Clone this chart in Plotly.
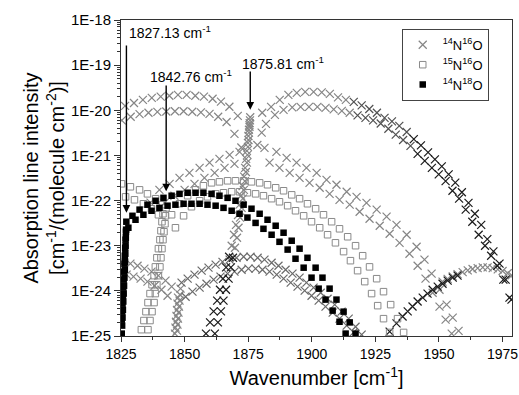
import math
import plotly.graph_objects as go

# ===================== DATA =====================
# ---- 14N16O : fundamental band, P branch (two sub-bands) ----
p_up_wn = [1826.6, 1830.1, 1833.6, 1837.1, 1840.6, 1844.0, 1847.4, 1850.8, 1854.2, 1857.6, 1861.0, 1864.3, 1867.6, 1870.9]
p_up_I = [1.25e-20, 1.45e-20, 1.7e-20, 1.88e-20, 2.0e-20, 2.1e-20, 2.2e-20, 2.2e-20, 2.1e-20, 2.0e-20, 1.8e-20, 1.55e-20, 1.2e-20, 7.5e-21]
p_lo_wn = [1825.3, 1828.8, 1832.3, 1835.8, 1839.3, 1842.8, 1846.2, 1849.6, 1853.0, 1856.4, 1859.8, 1863.2, 1866.5, 1869.6, 1872.3]
p_lo_I = [6.0e-21, 7.2e-21, 8.2e-21, 8.8e-21, 9.2e-21, 9.4e-21, 9.5e-21, 9.5e-21, 9.3e-21, 9.0e-21, 8.3e-21, 7.2e-21, 5.5e-21, 3.0e-21, 1.5e-21]

# ---- 14N16O : fundamental band, R branch (two sub-bands) ----
r_up_wn = [1880.5, 1884.0, 1887.4, 1890.8, 1894.1, 1897.4, 1900.7, 1903.9, 1907.1, 1910.3, 1913.4, 1916.5,
           1919.6, 1922.6, 1925.6, 1928.6, 1931.5, 1934.4, 1937.3, 1940.1, 1942.9, 1945.7, 1948.4, 1951.1,
           1953.8, 1956.4, 1959.0, 1961.6, 1964.1, 1966.6, 1969.0, 1971.4, 1973.8, 1976.2, 1978.5]
r_up_I = [8.8e-21, 1.19e-20, 1.7e-20, 2.19e-20, 2.43e-20, 2.55e-20, 2.55e-20, 2.49e-20, 2.31e-20, 1.93e-20, 1.7e-20, 1.53e-20,
          1.28e-20, 1.07e-20, 8.8e-21, 6.8e-21, 5.7e-21, 4.5e-21, 3.3e-21, 2.3e-21, 1.67e-21, 1.17e-21, 8.2e-22, 5.7e-22,
          3.8e-22, 2.5e-22, 1.53e-22, 8.9e-23, 5.1e-23, 2.9e-23, 1.4e-23, 7.5e-24, 4.0e-24, 1.77e-24, 6.4e-25]
r_lo_wn = [1878.6, 1880.3, 1882.0, 1885.5, 1888.9, 1892.3, 1895.6, 1898.9, 1902.2, 1905.4, 1908.6, 1911.8,
           1914.9, 1918.0, 1921.1, 1924.1, 1927.1, 1930.1, 1933.0, 1935.9, 1938.8, 1941.6, 1944.4, 1947.2,
           1949.9, 1952.6, 1955.3, 1957.9, 1960.5, 1963.1, 1965.6, 1968.1, 1970.5, 1972.9, 1975.3, 1977.7]
r_lo_I = [1.7e-21, 3.2e-21, 5.0e-21, 7.9e-21, 1.02e-20, 1.16e-20, 1.19e-20, 1.19e-20, 1.19e-20, 1.13e-20, 1.05e-20, 9.7e-21,
          8.8e-21, 7.7e-21, 6.8e-21, 6.0e-21, 5.1e-21, 3.9e-21, 2.9e-21, 2.2e-21, 1.63e-21, 1.08e-21, 7.6e-22, 5.3e-22,
          3.8e-22, 2.7e-22, 1.65e-22, 1.1e-22, 6.3e-23, 3.4e-23, 1.75e-23, 1.0e-23, 6.0e-24, 3.6e-24, 1.77e-24, 7.1e-25]

# ---- 14N16O : Q branches at the band origin ----
qa_wn = [1875.8, 1875.7, 1875.6, 1875.5, 1875.3, 1875.1, 1874.9, 1874.7, 1874.5, 1874.1, 1873.7, 1873.3, 1872.9,
         1872.4, 1871.8, 1871.2, 1870.6, 1869.8]
qa_I = [7.0e-21, 6.0e-21, 5.2e-21, 4.3e-21, 3.2e-21, 2.2e-21, 1.55e-21, 1.03e-21, 6.9e-22, 4.3e-22, 2.7e-22, 1.73e-22, 1.1e-22,
        6.9e-23, 4.2e-23, 2.5e-23, 1.5e-23, 9.0e-24]
qa_tail_wn = [1869.0, 1868.2, 1867.3, 1866.3, 1865.3, 1864.3, 1863.1, 1861.9]
qa_tail_I = [5.4e-24, 3.3e-24, 1.86e-24, 1.06e-24, 6.1e-25, 3.5e-25, 2.0e-25, 1.13e-25]
qb_wn = [1875.5, 1875.3, 1875.1, 1874.9, 1874.5, 1874.2, 1873.8, 1873.4, 1872.8, 1872.2, 1871.6, 1871.0, 1870.2,
         1869.4, 1868.5]
qb_I = [4.7e-21, 3.7e-21, 2.7e-21, 1.9e-21, 1.26e-21, 8.4e-22, 5.3e-22, 3.4e-22, 2.1e-22, 1.28e-22, 8.1e-23, 4.8e-23, 2.9e-23,
        1.75e-23, 1.0e-23]
qb_tail_wn = [1867.5, 1866.3, 1865.1, 1863.9, 1862.8, 1861.4, 1860.0, 1858.4]
qb_tail_I = [5.7e-24, 3.3e-24, 1.86e-24, 1.06e-24, 6.1e-25, 3.5e-25, 2.0e-25, 1.13e-25]

# ---- 14N16O : weaker band (arc peaking near 1880 cm-1) ----
s_left_up_wn = [1836.6, 1840.1, 1844.1, 1848.0, 1851.9, 1855.9, 1859.8, 1863.7, 1867.7, 1871.6]
s_left_up_I = [9.0e-23, 1.73e-22, 2.35e-22, 3.19e-22, 4.12e-22, 5.3e-22, 6.9e-22, 8.4e-22, 1.03e-21, 1.2e-21]
s_left_lo_wn = [1842.1, 1846.0, 1850.0, 1853.9, 1857.8, 1861.8, 1865.7, 1869.6]
s_left_lo_I = [8.9e-23, 1.28e-22, 1.73e-22, 2.35e-22, 3.19e-22, 4.12e-22, 5.3e-22, 6.5e-22]
s_right_up_wn = [1881.4, 1886.1, 1890.1, 1894.0, 1897.9, 1901.9, 1905.8, 1909.7, 1913.7, 1917.6, 1921.5, 1925.5,
                 1929.4, 1933.3, 1937.3, 1941.2, 1944.3, 1947.1, 1950.2, 1953.0, 1955.4, 1957.7]
s_right_up_I = [1.47e-21, 1.2e-21, 8.8e-22, 6.9e-22, 5.3e-22, 4.12e-22, 2.88e-22, 2.24e-22, 1.57e-22, 1.21e-22, 8.9e-23, 6.3e-23,
                4.4e-23, 2.9e-23, 1.75e-23, 9.5e-24, 4.9e-24, 2.4e-24, 1.06e-24, 4.95e-25, 2.55e-25, 1.3e-25]
s_right_lo_wn = [1883.4, 1887.3, 1891.3, 1895.2, 1899.1, 1903.1, 1907.0, 1910.9, 1914.9, 1918.8, 1922.7, 1926.7,
                 1930.6, 1934.5, 1938.4, 1941.6, 1944.7, 1947.5, 1950.2, 1952.6, 1955.0]
s_right_lo_I = [6.9e-22, 5.3e-22, 4.12e-22, 3.19e-22, 2.47e-22, 1.92e-22, 1.41e-22, 1.04e-22, 8.1e-23, 5.65e-23, 3.96e-23, 2.77e-23,
                1.84e-23, 1.16e-23, 6.65e-24, 3.6e-24, 1.86e-24, 9.1e-25, 4.47e-25, 2.3e-25, 1.13e-25]

# ---- 14N16O : hot band (v=2<-1) ----
h_r_up_wn = [1848.8, 1851.2, 1853.9, 1856.7, 1859.4, 1862.2, 1864.9, 1867.7, 1870.4, 1873.2, 1875.9, 1878.7, 1881.4,
             1884.2, 1886.9, 1889.7, 1892.4, 1895.2, 1897.9, 1900.7, 1903.5, 1906.2, 1909.0, 1911.7, 1914.5, 1917.2, 1919.6]
h_r_up_I = [1.52e-24, 1.86e-24, 2.28e-24, 2.8e-24, 3.26e-24, 3.8e-24, 4.4e-24, 4.9e-24, 5.4e-24, 5.7e-24, 5.7e-24, 5.4e-24, 4.9e-24,
            4.2e-24, 3.6e-24, 2.94e-24, 2.4e-24, 1.96e-24, 1.52e-24, 1.18e-24, 9.1e-25, 6.7e-25, 4.95e-25, 3.46e-25, 2.42e-25, 1.6e-25, 1.07e-25]
h_r_lo_wn = [1850.4, 1853.1, 1855.9, 1858.6, 1861.4, 1864.1, 1866.9, 1869.6, 1872.4, 1875.1, 1877.9, 1880.6, 1883.4,
             1886.2, 1888.9, 1891.7, 1894.4, 1897.2, 1899.9, 1902.7, 1905.4, 1908.2, 1910.9, 1913.7, 1916.4]
h_r_lo_I = [7.4e-25, 9.6e-25, 1.18e-24, 1.44e-24, 1.77e-24, 2.06e-24, 2.4e-24, 2.66e-24, 2.94e-24, 3.1e-24, 3.1e-24, 2.94e-24, 2.66e-24,
            2.28e-24, 1.86e-24, 1.52e-24, 1.24e-24, 1.01e-24, 7.8e-25, 6.1e-25, 4.47e-25, 3.3e-25, 2.42e-25, 1.7e-25, 1.2e-25]
h_p_up_wn = [1826.0, 1828.7, 1831.5, 1834.2, 1837.0, 1839.7, 1842.5, 1844.9]
h_p_up_I = [4.4e-24, 4.0e-24, 3.6e-24, 3.1e-24, 2.66e-24, 2.17e-24, 1.68e-24, 1.24e-24]
h_p_lo_wn = [1827.2, 1829.9, 1832.7, 1835.4, 1838.2, 1840.9, 1843.3]
h_p_lo_I = [2.28e-24, 2.06e-24, 1.86e-24, 1.6e-24, 1.3e-24, 1.06e-24, 7.8e-25]
h_q_wn = [1848.4, 1848.2, 1848.0, 1847.8, 1847.6, 1847.4, 1847.2, 1847.0,
          1847.4, 1847.2, 1847.0, 1846.8, 1846.6, 1846.4, 1846.2]
h_q_I = [1.12e-24, 8.2e-25, 6.1e-25, 4.47e-25, 3.3e-25, 2.42e-25, 1.78e-25, 1.32e-25,
         7.1e-25, 5.2e-25, 3.8e-25, 2.8e-25, 2.07e-25, 1.53e-25, 1.13e-25]

# ---- 14N16O : rising branch at the right edge ----
asc_wn = [1930.6, 1933.3, 1935.7, 1937.7, 1939.6, 1941.6, 1943.6, 1945.5, 1947.5, 1949.5, 1951.4, 1953.4, 1955.4, 1957.3]
asc_I = [1.25e-25, 1.9e-25, 2.7e-25, 3.5e-25, 4.5e-25, 5.8e-25, 7.1e-25, 8.7e-25, 1.06e-24, 1.24e-24, 1.44e-24, 1.68e-24, 1.96e-24, 2.17e-24]
asc2_wn = [1951.4, 1953.4, 1955.4, 1957.3, 1959.3, 1961.3, 1963.2, 1965.2, 1967.2, 1969.1, 1971.1, 1973.1, 1975.0, 1977.0, 1978.6]
asc2_I = [1.6e-24, 1.85e-24, 2.1e-24, 2.35e-24, 2.6e-24, 2.85e-24, 3.05e-24, 3.2e-24, 3.3e-24, 3.3e-24, 3.2e-24, 3.0e-24, 2.75e-24, 2.45e-24, 2.2e-24]

# ---- 15N16O ----
n15_r_up_wn = [1844.9, 1848.0, 1851.2, 1854.3, 1857.4, 1860.6, 1863.7, 1866.9, 1870.0, 1873.2, 1876.3, 1879.5, 1882.6,
               1885.8, 1888.9, 1892.1, 1895.2, 1898.3, 1901.5, 1904.6, 1907.8, 1910.9, 1914.1, 1917.2, 1920.0, 1922.7,
               1925.5, 1928.2, 1931.0, 1933.7, 1936.1]
n15_r_up_I = [4.85e-23, 8.5e-23, 1.28e-22, 1.73e-22, 2.13e-22, 2.47e-22, 2.6e-22, 2.74e-22, 2.74e-22, 2.74e-22, 2.6e-22, 2.47e-22, 2.24e-22,
              1.92e-22, 1.65e-22, 1.34e-22, 1.1e-22, 8.5e-23, 6.6e-23, 4.85e-23, 3.4e-23, 2.37e-23, 1.58e-23, 1.0e-23, 6.0e-24, 3.4e-24,
              1.86e-24, 9.6e-25, 4.95e-25, 2.42e-25, 1.2e-25]
n15_r_lo_wn = [1846.4, 1849.6, 1852.7, 1855.9, 1859.0, 1862.2, 1865.3, 1868.5, 1871.6, 1874.7, 1877.9, 1881.0, 1884.2,
               1887.3, 1890.5, 1893.6, 1896.8, 1899.9, 1903.1, 1906.2, 1909.3, 1912.5, 1915.2, 1918.0, 1920.8, 1923.5,
               1925.9, 1928.2, 1930.6]
n15_r_lo_I = [2.5e-23, 4.6e-23, 7.3e-23, 9.9e-23, 1.21e-22, 1.41e-22, 1.49e-22, 1.57e-22, 1.57e-22, 1.49e-22, 1.41e-22, 1.28e-22, 1.1e-22,
              9.4e-23, 7.7e-23, 5.95e-23, 4.6e-23, 3.4e-23, 2.5e-23, 1.75e-23, 1.16e-23, 7.4e-24, 4.66e-24, 2.8e-24, 1.6e-24, 8.7e-25,
              4.7e-25, 2.42e-25, 1.2e-25]
n15_p_up_wn = [1825.2, 1828.7, 1832.3, 1835.4, 1838.6, 1841.3]
n15_p_up_I = [2.35e-22, 2.02e-22, 1.73e-22, 1.41e-22, 1.1e-22, 8.1e-23]
n15_p_lo_wn = [1826.8, 1830.3, 1833.8, 1837.0, 1839.7]
n15_p_lo_I = [1.21e-22, 1.04e-22, 8.5e-23, 6.6e-23, 4.85e-23]
n15_q_wn = [1842.7, 1842.5, 1842.3, 1841.9, 1841.5, 1841.1, 1840.7, 1840.3, 1839.7, 1839.1, 1838.5, 1838.0, 1837.2, 1836.4, 1835.6,
            1841.5, 1841.1, 1840.7, 1840.3, 1839.7, 1839.1, 1838.5, 1838.0, 1837.2, 1836.4, 1835.6, 1834.8, 1834.0, 1833.0]
n15_q_I = [6.9e-23, 4.6e-23, 3.07e-23, 2.04e-23, 1.36e-23, 8.6e-24, 5.4e-24, 3.4e-24, 2.17e-24, 1.37e-24, 8.7e-25, 5.5e-25, 3.46e-25, 2.2e-25, 1.38e-25,
           5.1e-23, 3.4e-23, 2.15e-23, 1.36e-23, 8.6e-24, 5.4e-24, 3.4e-24, 2.17e-24, 1.37e-24, 8.7e-25, 5.5e-25, 3.46e-25, 2.2e-25, 1.38e-25]

# ---- 14N18O ----
n18_r_up_wn = [1829.5, 1832.3, 1835.4, 1838.6, 1841.7, 1844.9, 1848.0, 1851.2, 1854.3, 1857.4, 1860.6, 1863.7, 1866.9,
               1870.0, 1873.2, 1876.3, 1879.5, 1882.6, 1885.8, 1888.9, 1892.1, 1895.2, 1898.3, 1901.5, 1904.2, 1907.0,
               1909.7, 1912.5, 1914.9, 1917.2]
n18_r_up_I = [4.6e-23, 6.3e-23, 8.1e-23, 9.9e-23, 1.15e-22, 1.28e-22, 1.41e-22, 1.49e-22, 1.49e-22, 1.49e-22, 1.41e-22, 1.28e-22, 1.15e-22,
              9.9e-23, 8.1e-23, 6.6e-23, 5.1e-23, 3.76e-23, 2.77e-23, 1.94e-23, 1.29e-23, 8.6e-24, 5.4e-24, 3.26e-24, 1.96e-24, 1.12e-24,
              6.4e-25, 3.46e-25, 2.0e-25, 1.13e-25]
n18_r_lo_wn = [1827.9, 1830.7, 1833.8, 1837.0, 1840.1, 1843.3, 1846.4, 1849.6, 1852.7, 1855.9, 1859.0, 1862.2, 1865.3,
               1868.5, 1871.6, 1874.7, 1877.9, 1881.0, 1884.2, 1887.3, 1890.5, 1893.6, 1896.8, 1899.9, 1902.7, 1905.4,
               1908.2, 1910.9, 1913.3]
n18_r_lo_I = [2.5e-23, 3.76e-23, 4.85e-23, 5.95e-23, 6.9e-23, 7.7e-23, 8.1e-23, 8.5e-23, 8.5e-23, 8.5e-23, 8.1e-23, 7.7e-23, 6.9e-23,
              5.95e-23, 5.1e-23, 4.2e-23, 3.2e-23, 2.37e-23, 1.75e-23, 1.22e-23, 8.2e-24, 5.15e-24, 3.26e-24, 1.96e-24, 1.12e-24, 6.4e-25,
              3.65e-25, 2.07e-25, 1.13e-25]
n18_q_wn = [1827.1, 1827.0, 1826.9, 1826.8, 1826.7, 1826.6, 1826.5, 1826.35, 1826.2, 1826.05, 1825.9, 1825.75, 1825.6, 1825.45, 1825.3,
            1826.95, 1826.8, 1826.65, 1826.5, 1826.35, 1826.2, 1826.05, 1825.9, 1825.75, 1825.6, 1825.45, 1825.3]
n18_q_I = [3.4e-23, 2.27e-23, 1.5e-23, 1.0e-23, 6.65e-24, 4.4e-24, 2.94e-24, 1.96e-24, 1.3e-24, 8.7e-25, 5.8e-25, 3.8e-25, 2.55e-25, 1.7e-25, 1.13e-25,
           2.04e-23, 1.36e-23, 9.0e-24, 6.0e-24, 4.0e-24, 2.66e-24, 1.77e-24, 1.18e-24, 7.8e-25, 5.2e-25, 3.46e-25, 2.3e-25]

# ---- axis ticks and annotations ----
x_ticks = [1825, 1850, 1875, 1900, 1925, 1950, 1975]
y_ticks = [1e-25, 1e-24, 1e-23, 1e-22, 1e-21, 1e-20, 1e-19, 1e-18]
y_ticktext = ["1E-25", "1E-24", "1E-23", "1E-22", "1E-21", "1E-20", "1E-19", "1E-18"]
band_origins = [1827.13, 1842.76, 1875.81]
origin_labels = ["1827.13 cm<sup>-1</sup>", "1842.76 cm<sup>-1</sup>", "1875.81 cm<sup>-1</sup>"]

# ===================== FIGURE =====================
FONT = "Liberation Sans, Arial, sans-serif"
GRAY_X = "#858585"
MID_X = "#505050"
DARK_X = "#1a1a1a"
GRAY_SQ = "#8a8a8a"

fig = go.Figure()


def shade(wn, dark_from=None, mid_from=None):
    """marker colour per point: darker where the paired lines overlap heavily"""
    out = []
    for w in wn:
        if dark_from is not None and w >= dark_from:
            out.append(DARK_X)
        elif mid_from is not None and w >= mid_from:
            out.append(MID_X)
        else:
            out.append(GRAY_X)
    return out


def xtrace(wn, inten, color=GRAY_X, name="<sup>14</sup>N<sup>16</sup>O", show=False):
    fig.add_trace(go.Scatter(
        x=wn, y=inten, mode="markers", name=name, legendgroup="n1416", showlegend=show,
        marker=dict(symbol="x-thin", size=8, color=color, line=dict(width=1.2, color=color)),
        hoverinfo="skip"))


xtrace(p_up_wn, p_up_I, show=True)
for wn, inten in [(p_lo_wn, p_lo_I), (qa_wn, qa_I), (qb_wn, qb_I),
                  (s_left_up_wn, s_left_up_I), (s_left_lo_wn, s_left_lo_I), (s_right_up_wn, s_right_up_I),
                  (s_right_lo_wn, s_right_lo_I), (h_p_up_wn, h_p_up_I), (h_p_lo_wn, h_p_lo_I),
                  (h_q_wn, h_q_I), (asc2_wn, asc2_I)]:
    xtrace(wn, inten)
for wn, inten in [(h_r_up_wn, h_r_up_I), (h_r_lo_wn, h_r_lo_I)]:
    xtrace(wn, inten, color="#6a6a6a")
for wn, inten in [(r_up_wn, r_up_I), (r_lo_wn, r_lo_I)]:
    xtrace(wn, inten, color=shade(wn, dark_from=1940, mid_from=1915))
for wn, inten in [(qa_tail_wn, qa_tail_I), (qb_tail_wn, qb_tail_I), (asc_wn, asc_I)]:
    xtrace(wn, inten, color=DARK_X)


def sqtrace(wn, inten, show=False):
    fig.add_trace(go.Scatter(
        x=wn, y=inten, mode="markers", name="<sup>15</sup>N<sup>16</sup>O", legendgroup="n1516",
        showlegend=show,
        marker=dict(symbol="square-open", size=6.5, color=GRAY_SQ, line=dict(width=1, color=GRAY_SQ)),
        hoverinfo="skip"))


sqtrace(n15_r_up_wn, n15_r_up_I, show=True)
for wn, inten in [(n15_r_lo_wn, n15_r_lo_I), (n15_p_up_wn, n15_p_up_I), (n15_p_lo_wn, n15_p_lo_I), (n15_q_wn, n15_q_I)]:
    sqtrace(wn, inten)


def fsqtrace(wn, inten, show=False):
    fig.add_trace(go.Scatter(
        x=wn, y=inten, mode="markers", name="<sup>14</sup>N<sup>18</sup>O", legendgroup="n1418",
        showlegend=show,
        marker=dict(symbol="square", size=6.5, color="black", line=dict(width=0)),
        hoverinfo="skip"))


fsqtrace(n18_r_up_wn, n18_r_up_I, show=True)
for wn, inten in [(n18_r_lo_wn, n18_r_lo_I), (n18_q_wn, n18_q_I)]:
    fsqtrace(wn, inten)

# arrows + labels (annotation y on log axes is given in log10 units)
arrow_tail = [2.95e-19, 3.8e-20, 7.8e-20]
arrow_tip = [5.4e-23, 1.6e-22, 1.03e-20]
label_pos = [(1827.5, 5.4e-19, "left"), (1852.5, 5.8e-20, "center"), (1888.7, 1.13e-19, "center")]
for xo, tail, tip, lab, (lx, ly, la) in zip(band_origins, arrow_tail, arrow_tip, origin_labels, label_pos):
    fig.add_annotation(x=xo, y=math.log10(tip), ax=xo, ay=math.log10(tail), xref="x", yref="y",
                       axref="x", ayref="y", text="", showarrow=True, arrowhead=2, arrowsize=1.1,
                       arrowwidth=1.4, arrowcolor="black")
    fig.add_annotation(x=lx, y=math.log10(ly), xref="x", yref="y", text=lab, showarrow=False,
                       xanchor=la, yanchor="middle", font=dict(family=FONT, size=14, color="black"))

fig.update_layout(
    width=519, height=395,
    margin=dict(l=121, r=7, t=20, b=59),
    paper_bgcolor="white", plot_bgcolor="white",
    font=dict(family=FONT, color="black"),
    showlegend=True,
    legend=dict(x=0.718, y=0.972, xanchor="left", yanchor="top", bgcolor="white",
                bordercolor="#444", borderwidth=1, font=dict(family=FONT, size=13, color="black"),
                itemsizing="trace", tracegroupgap=0, itemwidth=30),
)
fig.update_xaxes(
    automargin=False,
    range=[1825, 1978.7], tickmode="array", tickvals=x_ticks, ticks="outside", ticklen=5,
    tickwidth=1, tickcolor="#333", showline=True, linecolor="#333", linewidth=1, mirror=True,
    showgrid=False, zeroline=False, tickfont=dict(family=FONT, size=14, color="black"),
    minor=dict(ticks="outside", ticklen=3, tickcolor="#333", dtick=12.5, tick0=1825, showgrid=False),
    title=dict(text="Wavenumber [cm<sup>-1</sup>]", font=dict(family=FONT, size=20, color="black"), standoff=10),
)
fig.update_yaxes(
    automargin=False,
    type="log", range=[-25, -18], tickmode="array", tickvals=y_ticks, ticktext=y_ticktext,
    ticks="outside", ticklen=6, tickwidth=1, tickcolor="#333", showline=True, linecolor="#333",
    linewidth=1, mirror=True, showgrid=False, zeroline=False,
    tickfont=dict(family=FONT, size=15, color="black"),
    minor=dict(ticks="outside", ticklen=3, tickcolor="#333", dtick="D1", showgrid=False),
    title=dict(text="Absorption line intensity<br>[cm<sup>-1</sup>/(molecule cm<sup>-2</sup>)]",
               font=dict(family=FONT, size=20, color="black"), standoff=0),
)

# place the figure at the very top-left corner of the page (no default body margin), no mode bar
fig.write_html("out.html",
               config={"displayModeBar": False},
               post_script="document.body.style.margin='0';document.body.style.overflow='hidden';")
